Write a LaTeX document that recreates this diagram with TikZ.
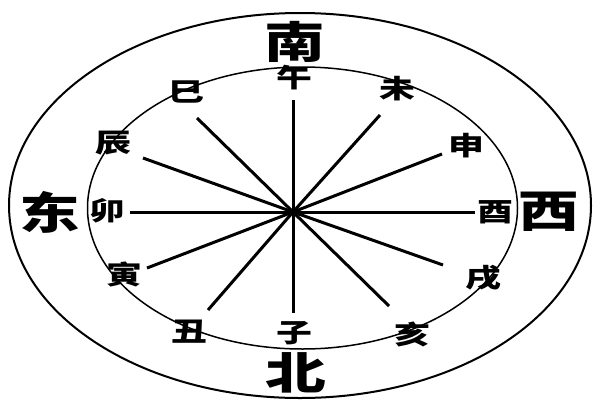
\documentclass[tikz,border=0pt]{standalone}
\usepackage{fontspec}
\usepackage{graphicx}
\newfontfamily\cjk{Noto Sans CJK SC}
\tikzset{
  ring/.style={draw=black, line width=2pt},
  inring/.style={draw=black, line width=1.5pt},
  spoke/.style={draw=black, line width=3pt},
  branch/.style={inner sep=0pt, font=\cjk\bfseries\fontsize{26}{26}\selectfont},
  dir/.style={inner sep=0pt, font=\cjk\bfseries\fontsize{44}{44}\selectfont},
}
\newcommand{\wide}[1]{\scalebox{1.38}[1]{#1}}
\begin{document}
\begin{tikzpicture}[x=1pt, y=-1pt]
\useasboundingbox (0,0) rectangle (600,400);
\fill[white] (0,0) rectangle (600,400);
% rings
\draw[ring] (300,205.5) ellipse [x radius=291, y radius=192.5];
\draw[inring] (302.5,208) ellipse [x radius=215, y radius=141];
% centre and spoke ends
\coordinate (c) at (293,212);
\coordinate (eWu) at (293,100);
\coordinate (eZi) at (293,313);
\coordinate (eMao) at (130,212);
\coordinate (eYou) at (475,212);
\coordinate (eSi) at (197,118);
\coordinate (eChen) at (143,158);
\coordinate (eWei) at (380,115);
\coordinate (eShen) at (442,154);
\coordinate (eYin) at (147,268);
\coordinate (eChou) at (208,310);
\coordinate (eXu) at (443,265);
\coordinate (eHai) at (389,306);
\foreach \e in {eWu,eZi,eMao,eYou,eSi,eChen,eWei,eShen,eYin,eChou,eXu,eHai}
  \draw[spoke] (c) -- (\e);
% directions
\node[dir] (nan) at (295,42) {\wide{南}};
\node[dir] (bei) at (296,373) {\wide{北}};
\node[dir] (dong) at (50,212) {\wide{东}};
\node[dir] (xi) at (549,212) {\wide{西}};
% branches
\node[branch] (wu) at (294,78) {\wide{午}};
\node[branch] (wei) at (397,89) {\wide{未}};
\node[branch] (shen) at (466,146) {\wide{申}};
\node[branch] (you) at (495,212) {\wide{酉}};
\node[branch] (xu) at (483,278) {\wide{戌}};
\node[branch] (hai) at (412,334) {\wide{亥}};
\node[branch] (zi) at (294,333) {\wide{子}};
\node[branch] (chou) at (189,332) {\wide{丑}};
\node[branch] (yin) at (124,275) {\wide{寅}};
\node[branch] (mao) at (107,211) {\wide{卯}};
\node[branch] (chen) at (113,143) {\wide{辰}};
\node[branch] (si) at (186,92) {\wide{巳}};
\end{tikzpicture}
\end{document}
